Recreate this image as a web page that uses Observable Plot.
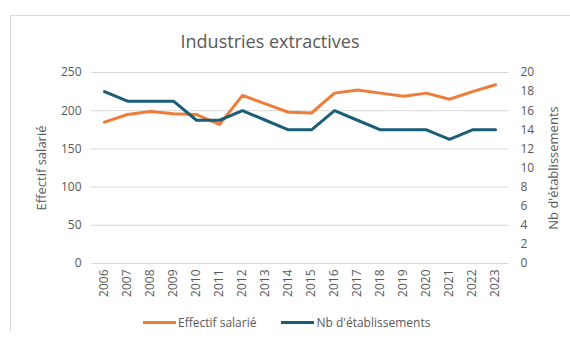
<!DOCTYPE html>
<html><head><meta charset="utf-8">
<script src="https://cdn.jsdelivr.net/npm/d3@7"></script>
<script src="https://cdn.jsdelivr.net/npm/@observablehq/plot@0.6"></script>
<style>
body{margin:0;background:#fff;font-family:"Open Sans",sans-serif;}
#frame{position:absolute;left:10px;top:15px;width:570px;height:316px;border-top:1px solid #d9d9d9;border-left:1px solid #d9d9d9;}
#title{position:absolute;left:0;width:540px;top:29px;text-align:center;font-size:18px;color:#595959;}
#chart{position:absolute;left:0;top:55px;}
#legend{position:absolute;top:314px;left:143px;font-size:12px;color:#595959;display:flex;align-items:center;}
.sw{display:inline-block;width:33px;height:3px;margin-right:2px;}
</style></head><body>
<div id="frame"></div>
<div id="title">Industries extractives</div>
<div id="chart"></div>
<div id="legend"><span class="sw" style="background:#EE7D3A"></span><span>Effectif salarié</span><span class="sw" style="background:#1B5E78;margin-left:25px"></span><span>Nb d'établissements</span></div>
<script>
const years = ["2006","2007","2008","2009","2010","2011","2012","2013","2014","2015","2016","2017","2018","2019","2020","2021","2022","2023"];
const effectif = [185,195,199,196,195,182,220,209,198,197,223,227,223,219,223,215,225,234];
const etabs = [18,17,17,17,15,15,16,15,14,14,16,15,14,14,14,13,14,14];
const leftTicks = [0,50,100,150,200,250];
const rightTicks = [0,2,4,6,8,10,12,14,16,18,20];
const leftMax = 250, rightMax = 20;
const k = leftMax / rightMax;
const orange = "#EE7D3A", blue = "#1B5E78";

const dataE = years.map((y,i)=>({year:y, v:effectif[i]}));
const dataN = years.map((y,i)=>({year:y, v:etabs[i]*k}));

const plot = Plot.plot({
  width: 570, height: 250,
  marginLeft: 91, marginRight: 62, marginTop: 17, marginBottom: 42,
  style: {fontFamily: "Open Sans, sans-serif", fontSize: "12px", color: "#595959", background: "transparent"},
  x: {type: "point", domain: years, padding: 0.5},
  y: {domain: [0, leftMax]},
  marks: [
    Plot.gridY(leftTicks, {stroke: "#d9d9d9", strokeOpacity: 1}),
    Plot.axisY({ticks: leftTicks, tickSize: 0, tickPadding: 10, label: null, fontSize: 12}),
    Plot.axisY({anchor: "right", ticks: rightTicks.map(d=>d*k), tickFormat: d=>String(Math.round(d/k)), tickSize: 0, tickPadding: 12, label: null, fontSize: 12}),
    Plot.axisX({tickRotate: -90, tickSize: 0, tickPadding: 6, label: null, fontSize: 12}),
    Plot.line(dataE, {x: "year", y: "v", stroke: orange, strokeWidth: 3}),
    Plot.line(dataN, {x: "year", y: "v", stroke: blue, strokeWidth: 3}),
    Plot.text(["Effectif salarié"], {frameAnchor: "left", textAnchor: "middle", dx: -50, rotate: -90, fontSize: 13, fill: "#595959"}),
    Plot.text(["Nb d'établissements"], {frameAnchor: "right", textAnchor: "middle", dx: 45, rotate: -90, fontSize: 13, fill: "#595959"})
  ]
});
document.getElementById("chart").appendChild(plot);
</script>
</body></html>
